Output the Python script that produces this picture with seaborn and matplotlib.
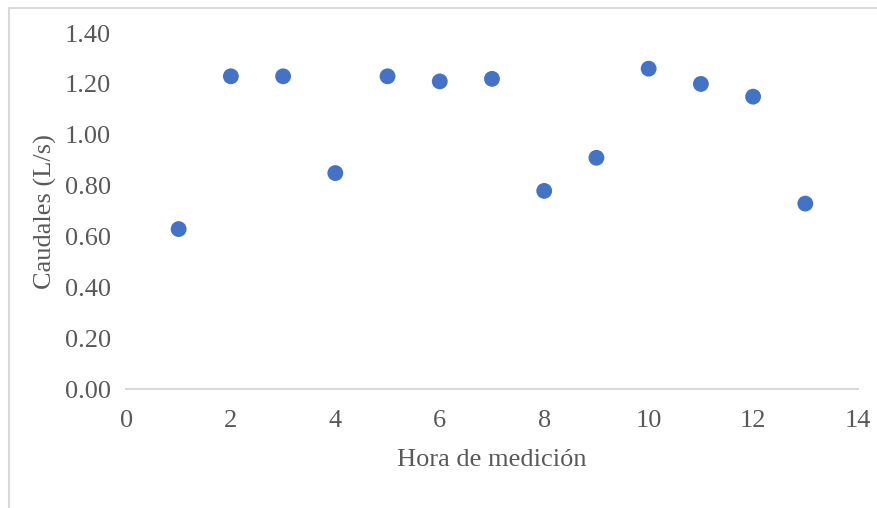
import matplotlib
matplotlib.use("Agg")
import matplotlib.pyplot as plt
import seaborn as sns
import pandas as pd
from matplotlib.patches import Rectangle

# Caudales medidos por hora
horas = [1, 2, 3, 4, 5, 6, 7, 8, 9, 10, 11, 12, 13]
caudales = [0.63, 1.23, 1.23, 0.85, 1.23, 1.21, 1.22, 0.78, 0.91, 1.26, 1.20, 1.15, 0.73]
x_ticks = [0, 2, 4, 6, 8, 10, 12, 14]
y_ticks = [0.0, 0.2, 0.4, 0.6, 0.8, 1.0, 1.2, 1.4]

df = pd.DataFrame({"hora": horas, "caudal": caudales})

sns.set_theme(style="white")
plt.rcParams["font.family"] = ["Liberation Serif", "DejaVu Serif"]

text_color = "#595959"
fig = plt.figure(figsize=(8.78, 5.08), dpi=100)
ax = fig.add_axes([0.144, 0.2333, 0.8327, 0.7017])

# outer chart frame (light gray), extends past right/bottom edge
fig.patches.append(Rectangle((8.5 / 878, -0.1), 1.2, 1.1 - 8.5 / 508,
                             transform=fig.transFigure, fill=False,
                             edgecolor="#D9D9D9", linewidth=1.5))

sns.scatterplot(data=df, x="hora", y="caudal", ax=ax, color="#4472C4",
                s=130, edgecolor="none", clip_on=False)

ax.set_xlim(0, 14)
ax.set_ylim(0, 1.4)
ax.set_xticks(x_ticks)
ax.set_yticks(y_ticks)
ax.set_yticklabels([f"{v:.2f}" for v in y_ticks])
ax.tick_params(axis="both", length=0, labelsize=19, colors=text_color)
ax.tick_params(axis="x", pad=15)
ax.tick_params(axis="y", pad=11)

for side in ["top", "right", "left"]:
    ax.spines[side].set_visible(False)
ax.spines["bottom"].set_color("#D9D9D9")
ax.spines["bottom"].set_linewidth(1.5)

ax.set_xlabel("Hora de medición", fontsize=19, color=text_color, labelpad=12)
ax.set_ylabel("Caudales (L/s)", fontsize=19, color=text_color, labelpad=6)

fig.savefig("out.png", dpi=100)
